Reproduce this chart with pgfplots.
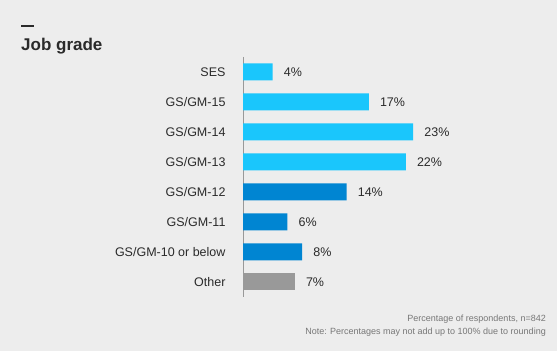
\documentclass[border=0pt]{standalone}
\usepackage{pgfplots}
\pgfplotsset{compat=1.18}
\usepackage{fontspec}
\setmainfont{Liberation Sans}
\definecolor{bg}{HTML}{EDEDED}
\definecolor{lblue}{HTML}{1AC6FC}
\definecolor{dblue}{HTML}{0085D2}
\definecolor{gbar}{HTML}{999999}
\definecolor{txt}{HTML}{2A2A2A}
\definecolor{note}{HTML}{777777}
\begin{document}
\begin{tikzpicture}
\fill[bg] (0pt,0pt) rectangle (557pt,351pt);
\draw[txt, line width=2pt] (21pt,325pt) -- (34pt,325pt);
\node[anchor=base west, font=\fontsize{17}{20}\selectfont\bfseries, text=txt, inner sep=0] at (21pt,300pt) {Job grade};
\begin{axis}[at={(243pt,294pt)}, anchor=north west, scale only axis,
  width=222pt, height=240pt,
  xmin=0, xmax=30, ymin=-0.5, ymax=7.5, y dir=reverse,
  xbar, bar width=17pt, bar shift=0pt,
  axis x line=none, axis y line=left,
  y axis line style={draw=gbar, -, line width=1pt},
  ytick={0,...,7},
  yticklabels={SES,GS/GM-15,GS/GM-14,GS/GM-13,GS/GM-12,GS/GM-11,GS/GM-10 or below,Other},
  major tick length=0pt,
  yticklabel style={font=\fontsize{12.5}{14}\selectfont, text=txt, xshift=-14pt},
  nodes near coords={\pgfmathprintnumber[assume math mode=true]{\pgfplotspointmeta}\%},
  nodes near coords style={anchor=west, inner sep=0pt, xshift=11pt, font=\fontsize{12.5}{14}\selectfont, text=txt},
  clip=false]
\addplot[fill=lblue, draw=none] coordinates {(4,0) (17,1) (23,2) (22,3)};
\addplot[fill=dblue, draw=none] coordinates {(14,4) (6,5) (8,6)};
\addplot[fill=gbar, draw=none] coordinates {(7,7)};
\end{axis}
\node[anchor=base east, inner sep=0, font=\fontsize{9}{11}\selectfont, text=note] at (546pt,30pt) {Percentage of respondents, n=842};
\node[anchor=base east, inner sep=0, font=\fontsize{9}{11}\selectfont, text=note] at (546pt,17pt) {Note: Percentages may not add up to 100\% due to rounding};
\end{tikzpicture}
\end{document}
